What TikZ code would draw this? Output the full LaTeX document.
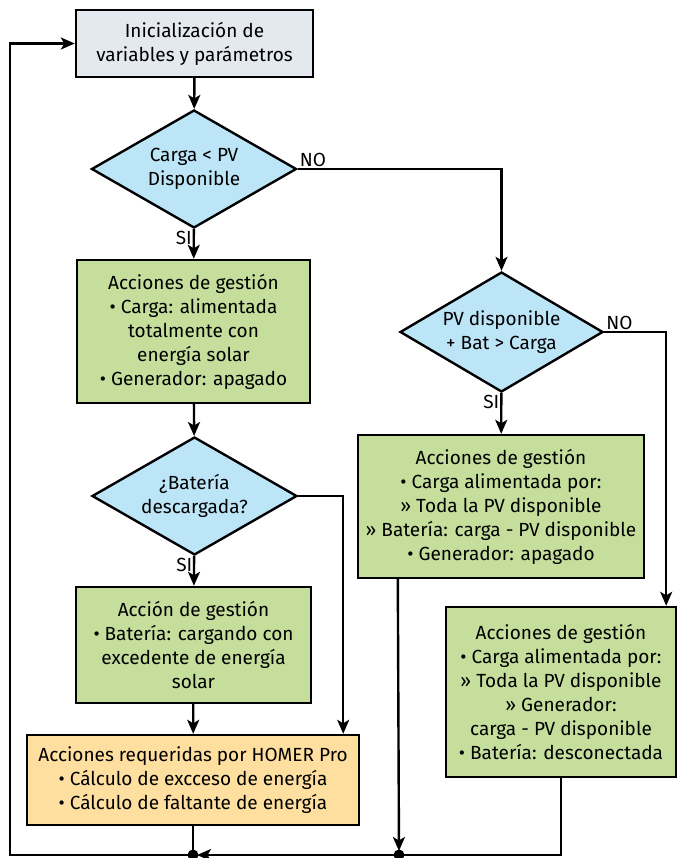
\documentclass[tikz,border=0pt]{standalone}
\usepackage{fontspec}
\setmainfont{Fira Sans}
\usetikzlibrary{shapes.geometric,arrows.meta}
\definecolor{initfill}{HTML}{E3E9EF}
\definecolor{decfill}{HTML}{BDE5F8}
\definecolor{actfill}{HTML}{C5DE9C}
\definecolor{homfill}{HTML}{FEDF9F}
\begin{document}
\begin{tikzpicture}[x=1pt, y=-1pt, line width=2.4pt,
    box_node/.style={rectangle,draw,align=center,inner sep=2pt,font=\fontsize{19}{24}\selectfont},
    dec_node/.style={diamond,draw,fill=decfill,align=center,inner sep=0pt,aspect=1.74,font=\fontsize{19}{24}\selectfont},
    lab_node/.style={inner sep=1pt,font=\fontsize{19}{20}\selectfont},
    arr/.style={-{Stealth[length=14pt,width=12pt,inset=3.5pt]}}]

    \useasboundingbox (0,0) rectangle (677,858);

    \node[box_node,fill=initfill,minimum width=237pt,minimum height=67pt] (init) at (194.5,43.5) {Inicialización de\\variables y parámetros};
    \node[dec_node,minimum width=205pt,minimum height=118pt] (d1) at (194,169) {Carga < PV\\Disponible};
    \node[box_node,fill=actfill,minimum width=233pt,minimum height=143pt] (act1) at (193.5,331.5) {Acciones de gestión\\• Carga: alimentada\\totalmente con\\energía solar\\• Generador: apagado};
    \node[dec_node,minimum width=205pt,minimum height=118pt] (d3) at (194.5,496) {¿Batería\\descargada?};
    \node[box_node,fill=actfill,minimum width=235pt,minimum height=116pt] (act3) at (193.5,645) {Acción de gestión\\• Batería: cargando con\\excedente de energía\\solar};
    \node[box_node,fill=homfill,minimum width=332pt,minimum height=90pt] (homer) at (193,780) {Acciones requeridas por HOMER Pro\\• Cálculo de excceso de energía\\• Cálculo de faltante de energía};
    \node[dec_node,minimum width=203pt,minimum height=120pt] (d2) at (501.5,332) {PV disponible\\+ Bat > Carga};
    \node[box_node,fill=actfill,minimum width=286pt,minimum height=143pt] (act4) at (501,506.5) {Acciones de gestión\\• Carga alimentada por:\\» Toda la PV disponible\\» Batería: carga - PV disponible\\• Generador: apagado};
    \node[box_node,fill=actfill,minimum width=230pt,minimum height=170pt] (act5) at (561,692) {Acciones de gestión\\• Carga alimentada por:\\» Toda la PV disponible\\» Generador:\\carga - PV disponible\\• Batería: desconectada};

    \node[lab_node,anchor=south west] (no1) at (d1.east) {NO};
    \node[lab_node,anchor=north east] (si1) at (d1.south) {SI};
    \node[lab_node,anchor=south west] (no2) at (d2.east) {NO};
    \node[lab_node,anchor=north east] (si2) at (d2.south) {SI};
    \node[lab_node,anchor=north east] (si3) at (d3.south) {SI};

    \coordinate (bh) at (193,855);
    \coordinate (b4) at (399,855);
    \coordinate (tl) at (10,43.5);

    \draw[arr] (init) -- (d1);
    \draw[arr] (d1) -- (act1);
    \draw[arr] (d1.east) -| (d2.north);
    \draw[arr] (act1) -- (d3);
    \draw[arr] (d3) -- (act3);
    \draw[arr] (act3) -- (homer);
    \draw[arr] (d3.east) -| ([xshift=-17pt]homer.north east);
    \draw[arr] (d2) -- (act4);
    \draw[arr] (d2.east) -| ([xshift=-11pt]act5.north east);
    \draw (homer.south) -- (bh);
    \draw[arr,shorten >=4pt] ([xshift=41pt]act4.south west) -- (b4);
    \draw[arr,shorten >=4pt] (act5.south) |- (bh);
    \draw[arr] (bh) -| (tl) -- (init.west);
    \fill (bh) circle (5.5pt);
    \fill (b4) circle (5.5pt);
\end{tikzpicture}
\end{document}
